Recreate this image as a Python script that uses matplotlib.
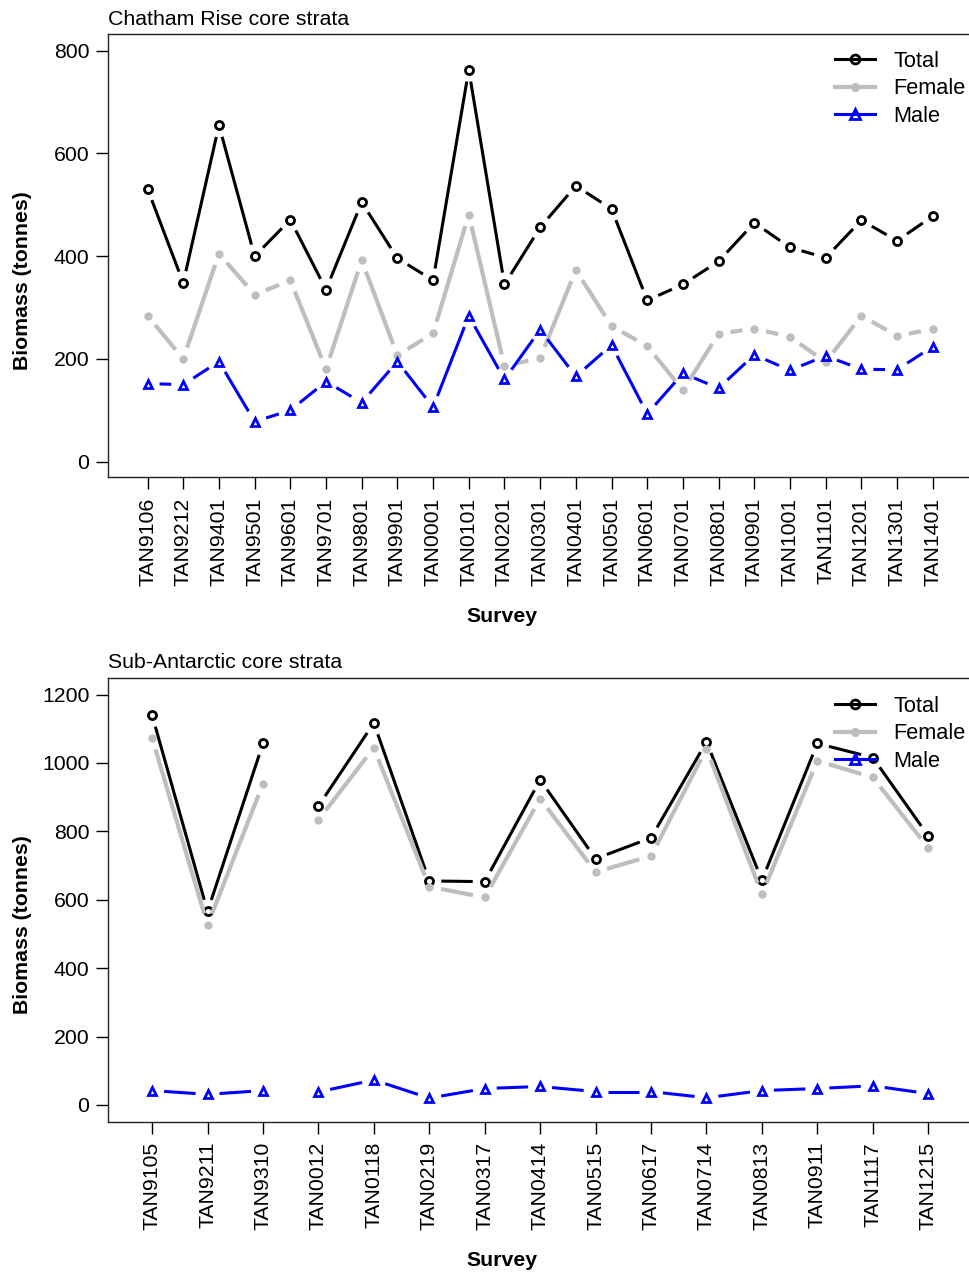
import numpy as np
import matplotlib
matplotlib.use("Agg")
import matplotlib.pyplot as plt
from matplotlib.collections import LineCollection
from matplotlib.lines import Line2D

plt.rcParams['font.family'] = ['Liberation Sans', 'DejaVu Sans']

# ---------------- data ----------------
cr_surveys = ["TAN9106", "TAN9212", "TAN9401", "TAN9501", "TAN9601", "TAN9701",
              "TAN9801", "TAN9901", "TAN0001", "TAN0101", "TAN0201", "TAN0301",
              "TAN0401", "TAN0501", "TAN0601", "TAN0701", "TAN0801", "TAN0901",
              "TAN1001", "TAN1101", "TAN1201", "TAN1301", "TAN1401"]
cr_total = [531, 348, 655, 400, 471, 335, 505, 396, 353, 763, 345, 456,
            537, 492, 314, 345, 390, 465, 417, 397, 470, 430, 478]
cr_female = [284, 200, 405, 325, 353, 180, 392, 207, 250, 481, 186, 202,
             373, 264, 225, 139, 249, 259, 243, 194, 284, 245, 258]
cr_male = [152, 150, 195, 78, 100, 156, 115, 195, 106, 284, 160, 257,
           166, 227, 93, 172, 143, 208, 178, 206, 180, 179, 224]
cr_breaks = []

sa_surveys = ["TAN9105", "TAN9211", "TAN9310", "TAN0012", "TAN0118", "TAN0219",
              "TAN0317", "TAN0414", "TAN0515", "TAN0617", "TAN0714", "TAN0813",
              "TAN0911", "TAN1117", "TAN1215"]
sa_total = [1140, 566, 1057, 874, 1117, 655, 653, 951, 720, 781, 1062, 657, 1057, 1016, 787]
sa_female = [1073, 526, 939, 834, 1044, 638, 607, 896, 681, 728, 1042, 616, 1006, 958, 752]
sa_male = [42, 31, 42, 38, 73, 20, 48, 54, 39, 39, 21, 42, 48, 56, 33]
sa_breaks = [3]   # series not joined between 3rd and 4th survey

series_names = ["Total", "Female", "Male"]

# ---------------- style ----------------
W, H = 969, 1274
DPI = 100
FS = 15.3
styles = {
    "Total": dict(color="black", lw=2.2, marker="o", ms=5.8, mew=2.0, mfc="none"),
    "Female": dict(color="#BEBEBE", lw=3.0, marker="o", ms=6.0, mew=0.0, mfc="#BEBEBE"),
    "Male": dict(color="#0000FF", lw=2.2, marker="^", ms=6.2, mew=2.0, mfc="none"),
}
GAP = 12  # px gap between line and point (R type="b")

fig = plt.figure(figsize=(W / DPI, H / DPI), dpi=DPI)


def px_axes(left, top, right, bottom):
    return fig.add_axes([left / W, 1 - bottom / H, (right - left) / W, (bottom - top) / H])


def gapped_line(ax, x, y, breaks, st, z):
    pts = ax.transData.transform(np.column_stack([x, y]))
    inv = ax.transData.inverted()
    segs = []
    for i in range(len(pts) - 1):
        if (i + 1) in breaks:
            continue
        p0, p1 = pts[i], pts[i + 1]
        d = p1 - p0
        L = np.hypot(*d)
        if L <= 2 * GAP:
            continue
        u = d / L
        segs.append([inv.transform(p0 + u * GAP), inv.transform(p1 - u * GAP)])
    lc = LineCollection(segs, colors=st["color"], linewidths=st["lw"],
                        capstyle="butt", zorder=z)
    ax.add_collection(lc)
    ax.plot(x, y, linestyle="none", marker=st["marker"], ms=st["ms"], mew=st["mew"],
            mfc=st["mfc"], mec=st["color"], zorder=z + 0.5, clip_on=False)


def panel(box, xmargin, surveys, data, breaks, ylim, yticks, title, title_base,
          survey_y, legend_top):
    left, top, right, bottom = box
    ax = px_axes(left, top, right, bottom)
    n = len(surveys)
    x = np.arange(1, n + 1)
    ax.set_xlim(1 - xmargin, n + xmargin)
    ax.set_ylim(*ylim)
    ax.set_xticks(x)
    ax.set_xticklabels(surveys, rotation=90, fontsize=FS)
    ax.set_yticks(yticks)
    ax.set_yticklabels([str(v) for v in yticks], fontsize=FS)
    ax.tick_params(axis="both", direction="out", length=8.6, width=1.0,
                   colors="black")
    ax.tick_params(axis="x", pad=6.0)
    ax.tick_params(axis="y", pad=5.0)
    for sp in ax.spines.values():
        sp.set_linewidth(1.0)
        sp.set_color("#222222")
    for k, name in enumerate(series_names):
        gapped_line(ax, x, data[name], breaks, styles[name], 3 + k)
    handles = [Line2D([0], [0], color=styles[nm]["color"], lw=styles[nm]["lw"],
                      marker=styles[nm]["marker"], ms=styles[nm]["ms"] + 0.6,
                      mew=styles[nm]["mew"], mfc=styles[nm]["mfc"],
                      mec=styles[nm]["color"]) for nm in series_names]
    leg = ax.legend(handles, series_names, loc="upper left",
                    bbox_to_anchor=(835 / W, 1 - legend_top / H),
                    bbox_transform=fig.transFigure, frameon=False,
                    fontsize=FS + 0.4, handlelength=1.85, handletextpad=0.82,
                    labelspacing=0.29, borderpad=0, borderaxespad=0)
    leg.set_zorder(10)
    fig.text(left / W, 1 - title_base / H, title, fontsize=FS, ha="left",
             va="baseline")
    fig.text(23 / W, 1 - ((top + bottom) / 2 + 25) / H, "Biomass (tonnes)",
             fontsize=FS, fontweight="bold", rotation=90, ha="center", va="center")
    fig.text(502 / W, 1 - survey_y / H, "Survey", fontsize=FS,
             fontweight="bold", ha="center", va="center")
    return ax


cr_data = {"Total": cr_total, "Female": cr_female, "Male": cr_male}
sa_data = {"Total": sa_total, "Female": sa_female, "Male": sa_male}

panel((108.3, 34, 972, 477.3), 1.10,
      cr_surveys, cr_data, cr_breaks, (-30.4, 832.5), [0, 200, 400, 600, 800],
      "Chatham Rise core strata", 25, 617, 51)
panel((108.3, 678.3, 972, 1121.7), 0.79,
      sa_surveys, sa_data, sa_breaks, (-49.0, 1247.6),
      [0, 200, 400, 600, 800, 1000, 1200],
      "Sub-Antarctic core strata", 668, 1261, 696)

fig.savefig("out.png", dpi=DPI)
